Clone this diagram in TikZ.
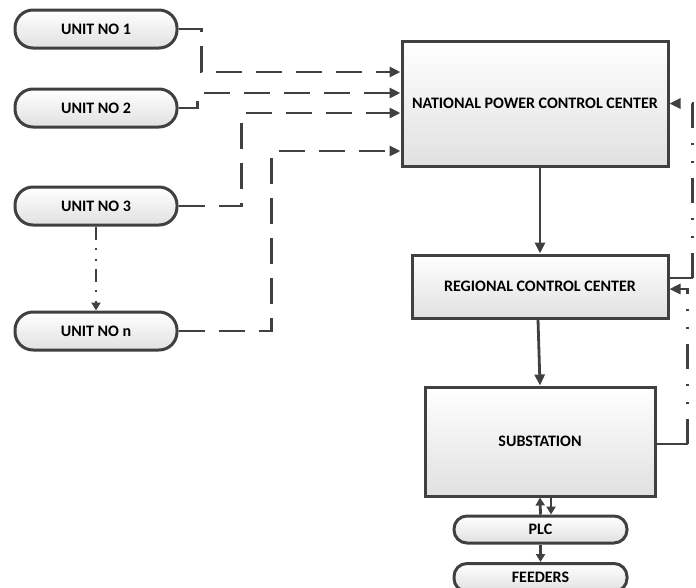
\documentclass[tikz,border=0pt]{standalone}
\usepackage{fontspec}
\setmainfont{Carlito}
\usetikzlibrary{arrows.meta,calc}
\definecolor{linec}{HTML}{404040}
\tikzset{
  boxbase/.style={draw=linec, line width=3pt, top color=white, bottom color=black!12,
    font=\bfseries\fontsize{16}{18}\selectfont, inner sep=0pt, align=center, text=black},
  unitbox/.style={boxbase, rounded corners=18pt, minimum width=162pt, minimum height=38pt},
  pillbox/.style={boxbase, rounded corners=13pt, minimum width=173pt, minimum height=27pt},
  rectbox/.style={boxbase},
  tipbig/.tip={Triangle[length=11pt,width=10pt]},
  tipsmall/.tip={Triangle[length=8pt,width=9pt]},
  dashline/.style={draw=linec, line width=2.8pt, dash pattern=on 26pt off 14pt, -tipbig},
  solidline/.style={draw=linec, line width=2.8pt},
  dotdashline/.style={draw=linec, line width=2.6pt,
    dash pattern=on 25pt off 15pt on 2pt off 16pt on 2pt off 15pt},
  dotdashsmall/.style={draw=linec, line width=2.6pt,
    dash pattern=on 13pt off 8pt on 2pt off 9pt on 2pt off 8pt},
}
\begin{document}
\begin{tikzpicture}[x=1pt,y=-1pt]
\clip (0,0) rectangle (696,587);
\fill[white] (0,0) rectangle (696,587);

\node[unitbox] (u1) at (96,29) {UNIT NO 1};
\node[unitbox] (u2) at (96,108) {UNIT NO 2};
\node[unitbox] (u3) at (96,206) {UNIT NO 3};
\node[unitbox] (un) at (96,331) {UNIT NO n};

\node[rectbox, minimum width=266pt, minimum height=125pt] (npcc) at (535,103.5) {NATIONAL POWER CONTROL CENTER};
\node[rectbox, minimum width=256pt, minimum height=63pt] (rcc) at (540,286.5) {REGIONAL CONTROL CENTER};
\node[rectbox, minimum width=230pt, minimum height=109pt] (sub) at (540,441.5) {SUBSTATION};
\node[pillbox] (plc) at (540.5,529.5) {PLC};
\node[pillbox, minimum height=28pt] (feed) at (540.5,577.5) {FEEDERS};

% units to national center
\draw[dashline] (u1.east) -- ++(23,0) |- ([yshift=31.5pt]npcc.west);
\draw[dashline] (u2.east) -- ++(19,0) |- ([yshift=10.5pt]npcc.west);
\draw[dashline] (u3.east) -- ++(63,0) |- ([yshift=-9.5pt]npcc.west);
\draw[dashline] (un.east) -- ++(93,0) |- ([yshift=-47.5pt]npcc.west);

% unit 3 to unit n
\draw[dotdashsmall, -tipsmall] (u3.south) -- (un.north);

% main chain
\draw[solidline, -tipbig] (npcc.south -| rcc.north) -- (rcc.north);
\draw[solidline, -tipbig] ([xshift=-2pt]rcc.south) -- (sub.north);

% feedback lines
\draw[solidline] ([yshift=8.5pt]rcc.east) -- ++(23,0) coordinate (rc1);
\draw[dotdashline, -tipbig] (rc1) |- (npcc.east);
\draw[solidline] ([yshift=-2.5pt]sub.east) -- ++(31,0) coordinate (sc1);
\draw[dotdashline, -tipbig] (sc1) |- ([yshift=-2.5pt]rcc.east);

% substation / plc / feeders
\draw[solidline, -tipsmall] (plc.north) -- (sub.south);
\draw[solidline, -tipsmall] ([xshift=11pt]sub.south) -- ([xshift=11pt]sub.south |- plc.north);
\draw[solidline, -tipsmall] (plc.south) -- (feed.north);
\end{tikzpicture}
\end{document}
